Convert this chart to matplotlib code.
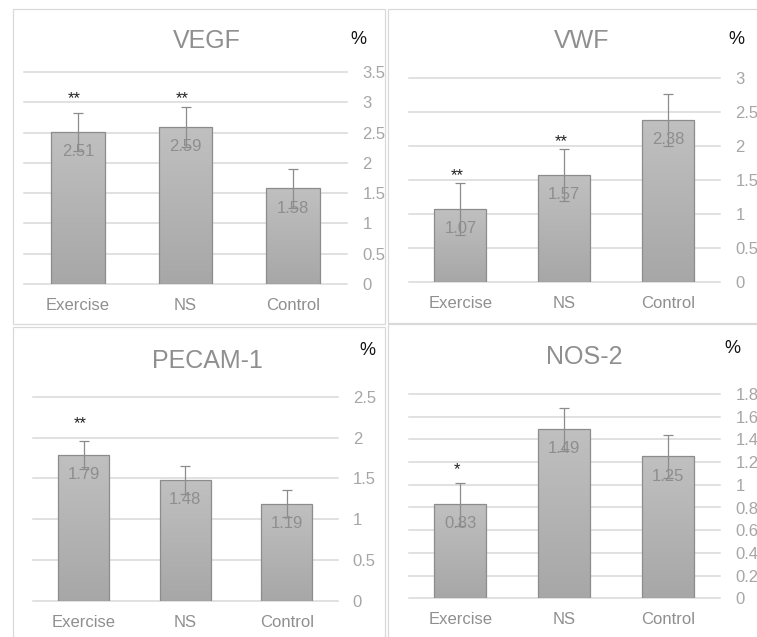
import numpy as np
import matplotlib.pyplot as plt
from matplotlib.patches import Rectangle
from matplotlib.colors import LinearSegmentedColormap

plt.rcParams['font.family'] = ['Liberation Sans', 'DejaVu Sans']

W, H = 757, 637

categories = ['Exercise', 'NS', 'Control']

vegf_vals = [2.51, 2.59, 1.58]
vegf_err = [0.31, 0.33, 0.32]
vegf_stars = ['**', '**', '']
vegf_star_y = [3.15, 3.15, 0]

vwf_vals = [1.07, 1.57, 2.38]
vwf_err = [0.38, 0.38, 0.38]
vwf_stars = ['**', '**', '']
vwf_star_y = [1.63, 2.14, 0]

pecam_vals = [1.79, 1.48, 1.19]
pecam_err = [0.17, 0.17, 0.17]
pecam_stars = ['**', '', '']
pecam_star_y = [2.23, 0, 0]

nos_vals = [0.83, 1.49, 1.25]
nos_err = [0.19, 0.19, 0.19]
nos_stars = ['*', '', '']
nos_star_y = [1.18, 0, 0]

vegf_ticks = [0, 0.5, 1, 1.5, 2, 2.5, 3, 3.5]
vwf_ticks = [0, 0.5, 1, 1.5, 2, 2.5, 3]
pecam_ticks = [0, 0.5, 1, 1.5, 2, 2.5]
nos_ticks = [0, 0.2, 0.4, 0.6, 0.8, 1, 1.2, 1.4, 1.6, 1.8]

GRID = '#d9d9d9'
bar_cmap = LinearSegmentedColormap.from_list('bar', ['#a7a7a7', '#c0c0c0'])

fig = plt.figure(figsize=(W / 100, H / 100), dpi=100)


def fx(px):
    return px / W


def fy(py):
    return 1 - py / H


# panel frames (pixel boxes: left, top, right, bottom)
for l, t, r, b in [(13, 9, 385, 324), (388, 9, 770, 323),
                   (13, 327, 385, 650), (388, 324, 770, 650)]:
    fig.patches.append(Rectangle((fx(l), fy(b)), fx(r - l), (b - t) / H,
                                 transform=fig.transFigure, facecolor='white',
                                 edgecolor=GRID, lw=0.9, zorder=-1))


def panel(box, title, title_xy, pct_xy, vals, errs, stars, star_y, ticks):
    l, t, r, b = box
    ax = fig.add_axes([fx(l), fy(b), fx(r - l), (b - t) / H])
    ax.set_facecolor('none')
    x = np.arange(len(categories))
    bars = ax.bar(x, vals, width=0.5, color='none', edgecolor='#8c8c8c',
                  lw=0.9, zorder=3)
    grad = np.linspace(0, 1, 256).reshape(-1, 1)
    for p in bars.patches:
        im = ax.imshow(grad, cmap=bar_cmap, origin='lower', aspect='auto',
                       extent=[p.get_x(), p.get_x() + p.get_width(), 0, p.get_height()],
                       zorder=2)
        im.set_clip_path(p)
    ax.errorbar(x, vals, yerr=errs, fmt='none', ecolor='#8c8c8c', elinewidth=0.9,
                capsize=3.3, capthick=0.9, zorder=5)
    for xi, v in zip(x, vals):
        ax.annotate(f'{v:.2f}', (xi, v), xytext=(0, -17.5), textcoords='offset points',
                    ha='center', va='baseline', fontsize=12, color='#8e8e8e', zorder=4)
    for xi, s, sy in zip(x, stars, star_y):
        if s:
            ax.annotate(s, (xi, sy), xytext=(-2.5, -7), textcoords='offset points',
                        ha='center', va='baseline', fontsize=12, color='#222222')
    ax.set_xlim(-0.5, len(categories) - 0.5)
    ax.set_ylim(0, ticks[-1])
    ax.set_yticks(ticks)
    ax.set_yticklabels([f'{v:g}' for v in ticks])
    ax.yaxis.tick_right()
    ax.set_xticks(x)
    ax.set_xticklabels(categories)
    ax.tick_params(axis='y', length=0, pad=11, labelsize=12, labelcolor='#a6a6a6')
    ax.tick_params(axis='x', length=0, pad=10, labelsize=12, labelcolor='#8f8f8f')
    for s in ax.spines.values():
        s.set_visible(False)
    ax.yaxis.grid(True, color=GRID, lw=1.1)
    for gl in ax.get_ygridlines():
        gl.set_clip_on(False)
    ax.set_axisbelow(True)
    fig.text(fx(title_xy[0]), fy(title_xy[1]), title, ha='center', va='baseline',
             fontsize=18, color='#8f8f8f')
    fig.text(fx(pct_xy[0]), fy(pct_xy[1]), '%', ha='center', va='baseline',
             fontsize=13, color='#111111')
    return ax


panel((24, 72, 347, 284), 'VEGF', (207, 48.5), (358, 43.5),
      vegf_vals, vegf_err, vegf_stars, vegf_star_y, vegf_ticks)
panel((408.5, 77.7, 720, 281.7), 'VWF', (582, 47.7), (736, 43.5),
      vwf_vals, vwf_err, vwf_stars, vwf_star_y, vwf_ticks)
panel((33, 396.7, 337.5, 600.7), 'PECAM-1', (207, 368.3), (367, 355),
      pecam_vals, pecam_err, pecam_stars, pecam_star_y, pecam_ticks)
panel((408.5, 394, 720, 598.3), 'NOS-2', (584, 364), (732, 353.3),
      nos_vals, nos_err, nos_stars, nos_star_y, nos_ticks)

fig.savefig('out.png', dpi=100)
